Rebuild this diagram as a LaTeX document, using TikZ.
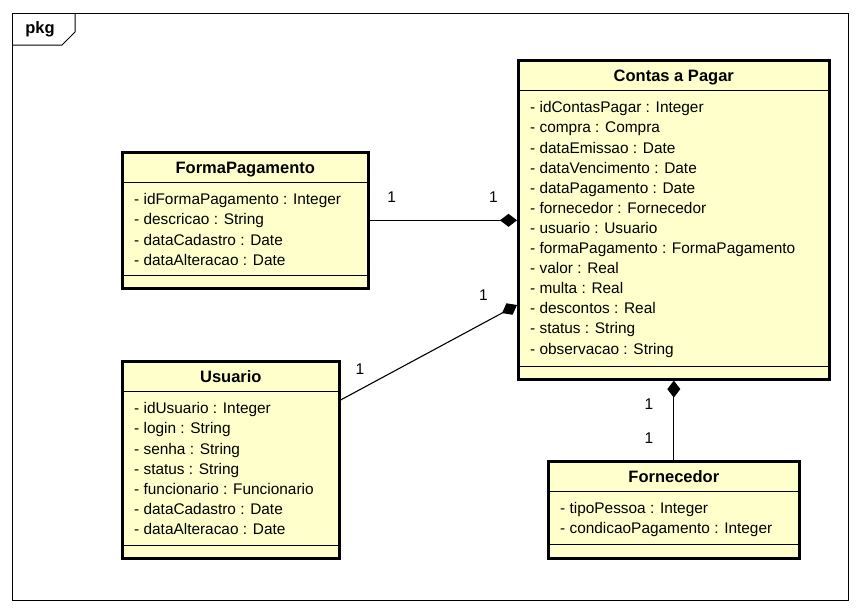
\documentclass[tikz,border=0pt]{standalone}
\usepackage{fontspec}
\setmainfont{Liberation Sans}
\usetikzlibrary{arrows.meta,positioning}
\definecolor{classfill}{RGB}{255,255,204}
\tikzset{classbox/.style={rectangle,draw=black,line width=2.6pt,fill=classfill,anchor=north west,inner sep=0pt},
		classname/.style={font=\bfseries\fontsize{16.5}{18}\selectfont,inner sep=0pt},
		attrs/.style={font=\fontsize{15.4}{20.1}\selectfont,align=left,anchor=north west,inner sep=0pt},
		comp/.style={-{Diamond[length=17pt,width=13pt]},line width=1.1pt},
		mult/.style={font=\fontsize{15.5}{18}\selectfont,inner sep=0pt}}

\begin{document}
\begin{tikzpicture}[x=1pt,y=-1pt]
	\useasboundingbox (0,0) rectangle (861,613);
	% package frame
	\draw[line width=1pt] (12,13) rectangle (848,600);
	\draw[line width=1pt] (12,45) -- (62,45) -- (75,32) -- (75,13);
	\node[classname] (pkg) at (40,29.5) {pkg};

	% classes
	\node[classbox,minimum width=246pt,minimum height=136pt] (forma) at (121,151) {};
	\node[classname,below=10.5pt of forma.north] (forma-name) {FormaPagamento};
	\draw ([yshift=-31pt]forma.north west) -- ([yshift=-31pt]forma.north east);
	\draw ([yshift=14.5pt]forma.south west) -- ([yshift=14.5pt]forma.south east);
	\node[attrs] (forma-attrs) at ([xshift=13pt,yshift=-42.5pt]forma.north west) {- idFormaPagamento : Integer\\- descricao : String\\- dataCadastro : Date\\- dataAlteracao : Date};

	\node[classbox,minimum width=311pt,minimum height=319pt] (contas) at (517,59) {};
	\node[classname,below=10.5pt of contas.north] (contas-name) {Contas a Pagar};
	\draw ([yshift=-31pt]contas.north west) -- ([yshift=-31pt]contas.north east);
	\draw ([yshift=14.5pt]contas.south west) -- ([yshift=14.5pt]contas.south east);
	\node[attrs] (contas-attrs) at ([xshift=13pt,yshift=-42.5pt]contas.north west) {- idContasPagar : Integer\\- compra : Compra\\- dataEmissao : Date\\- dataVencimento : Date\\- dataPagamento : Date\\- fornecedor : Fornecedor\\- usuario : Usuario\\- formaPagamento : FormaPagamento\\- valor : Real\\- multa : Real\\- descontos : Real\\- status : String\\- observacao : String};

	\node[classbox,minimum width=217pt,minimum height=197pt] (usuario) at (121,360) {};
	\node[classname,below=10.5pt of usuario.north] (usuario-name) {Usuario};
	\draw ([yshift=-31pt]usuario.north west) -- ([yshift=-31pt]usuario.north east);
	\draw ([yshift=14.5pt]usuario.south west) -- ([yshift=14.5pt]usuario.south east);
	\node[attrs] (usuario-attrs) at ([xshift=13pt,yshift=-42.5pt]usuario.north west) {- idUsuario : Integer\\- login : String\\- senha : String\\- status : String\\- funcionario : Funcionario\\- dataCadastro : Date\\- dataAlteracao : Date};

	\node[classbox,minimum width=251pt,minimum height=97pt] (fornecedor) at (547,460) {};
	\node[classname,below=10.5pt of fornecedor.north] (fornecedor-name) {Fornecedor};
	\draw ([yshift=-31pt]fornecedor.north west) -- ([yshift=-31pt]fornecedor.north east);
	\draw ([yshift=15pt]fornecedor.south west) -- ([yshift=15pt]fornecedor.south east);
	\node[attrs] (fornecedor-attrs) at ([xshift=13pt,yshift=-42.5pt]fornecedor.north west) {- tipoPessoa : Integer\\- condicaoPagamento : Integer};

	% compositions
	\draw[comp] (forma.east) -- node[mult,pos=0.15,above=17pt] {1} node[mult,pos=0.84,above=17pt] {1} (forma.east -| contas.west);
	\draw[comp] ([yshift=-40pt]usuario.north east) -- node[mult,pos=0.11,above=15pt] {1} node[mult,pos=0.81,above=22pt] {1} ([yshift=-246pt]contas.north west);
	\draw[comp,{Diamond[length=17pt,width=13pt]}-] (contas.south) -- node[mult,pos=0.3,left=20pt] {1} node[mult,pos=0.72,left=20pt] {1} (fornecedor.north);
\end{tikzpicture}
\end{document}
